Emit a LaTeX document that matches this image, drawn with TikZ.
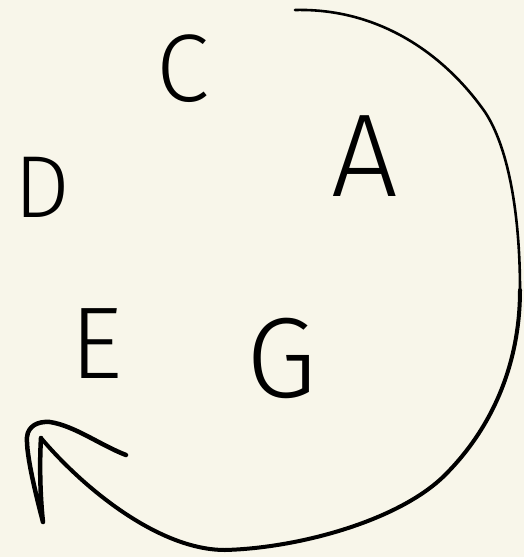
\documentclass[tikz,border=0pt]{standalone}
\usepackage{fontspec}
\newfontfamily\hand{Fira Sans Light}
\definecolor{paper}{HTML}{F8F6EA}
\begin{document}
\begin{tikzpicture}[x=1pt,y=-1pt,
  letter/.style={inner sep=0pt,font=\hand\fontsize{#1}{#1}\selectfont},
  stroke/.style={line cap=round,line join=round,black}]
\fill[paper] (0,0) rectangle (524,557);
\useasboundingbox (0,0) rectangle (524,557);
\node[letter=96] (C) at (183,69) {C};
\node[letter=118] (A) at (365,156) {A};
\node[letter=88] (D) at (42,187) {D};
\node[letter=102] (E) at (97,344) {E};
\node[letter=114] (G) at (282,358) {G};
\coordinate (s) at (295,10);
\coordinate (r) at (520,290);
\coordinate (t) at (41,438);
\draw[stroke,line width=2.6pt] (s) .. controls (380,8) and (445,55) .. (485,112)
  .. controls (510,150) and (520,220) .. (r);
\draw[stroke,line width=4pt] (r) .. controls (520,360) and (495,425) .. (445,475)
  .. controls (400,520) and (300,548) .. (225,550)
  .. controls (160,550) and (85,490) .. (t);
\draw[stroke,line width=4.5pt] (t) .. controls (39,470) and (41,505) .. (43,522)
  .. controls (36,495) and (26,455) .. (27,437)
  .. controls (28,426) and (38,421) .. (50,422)
  .. controls (75,426) and (100,445) .. (126,455);
\end{tikzpicture}
\end{document}
